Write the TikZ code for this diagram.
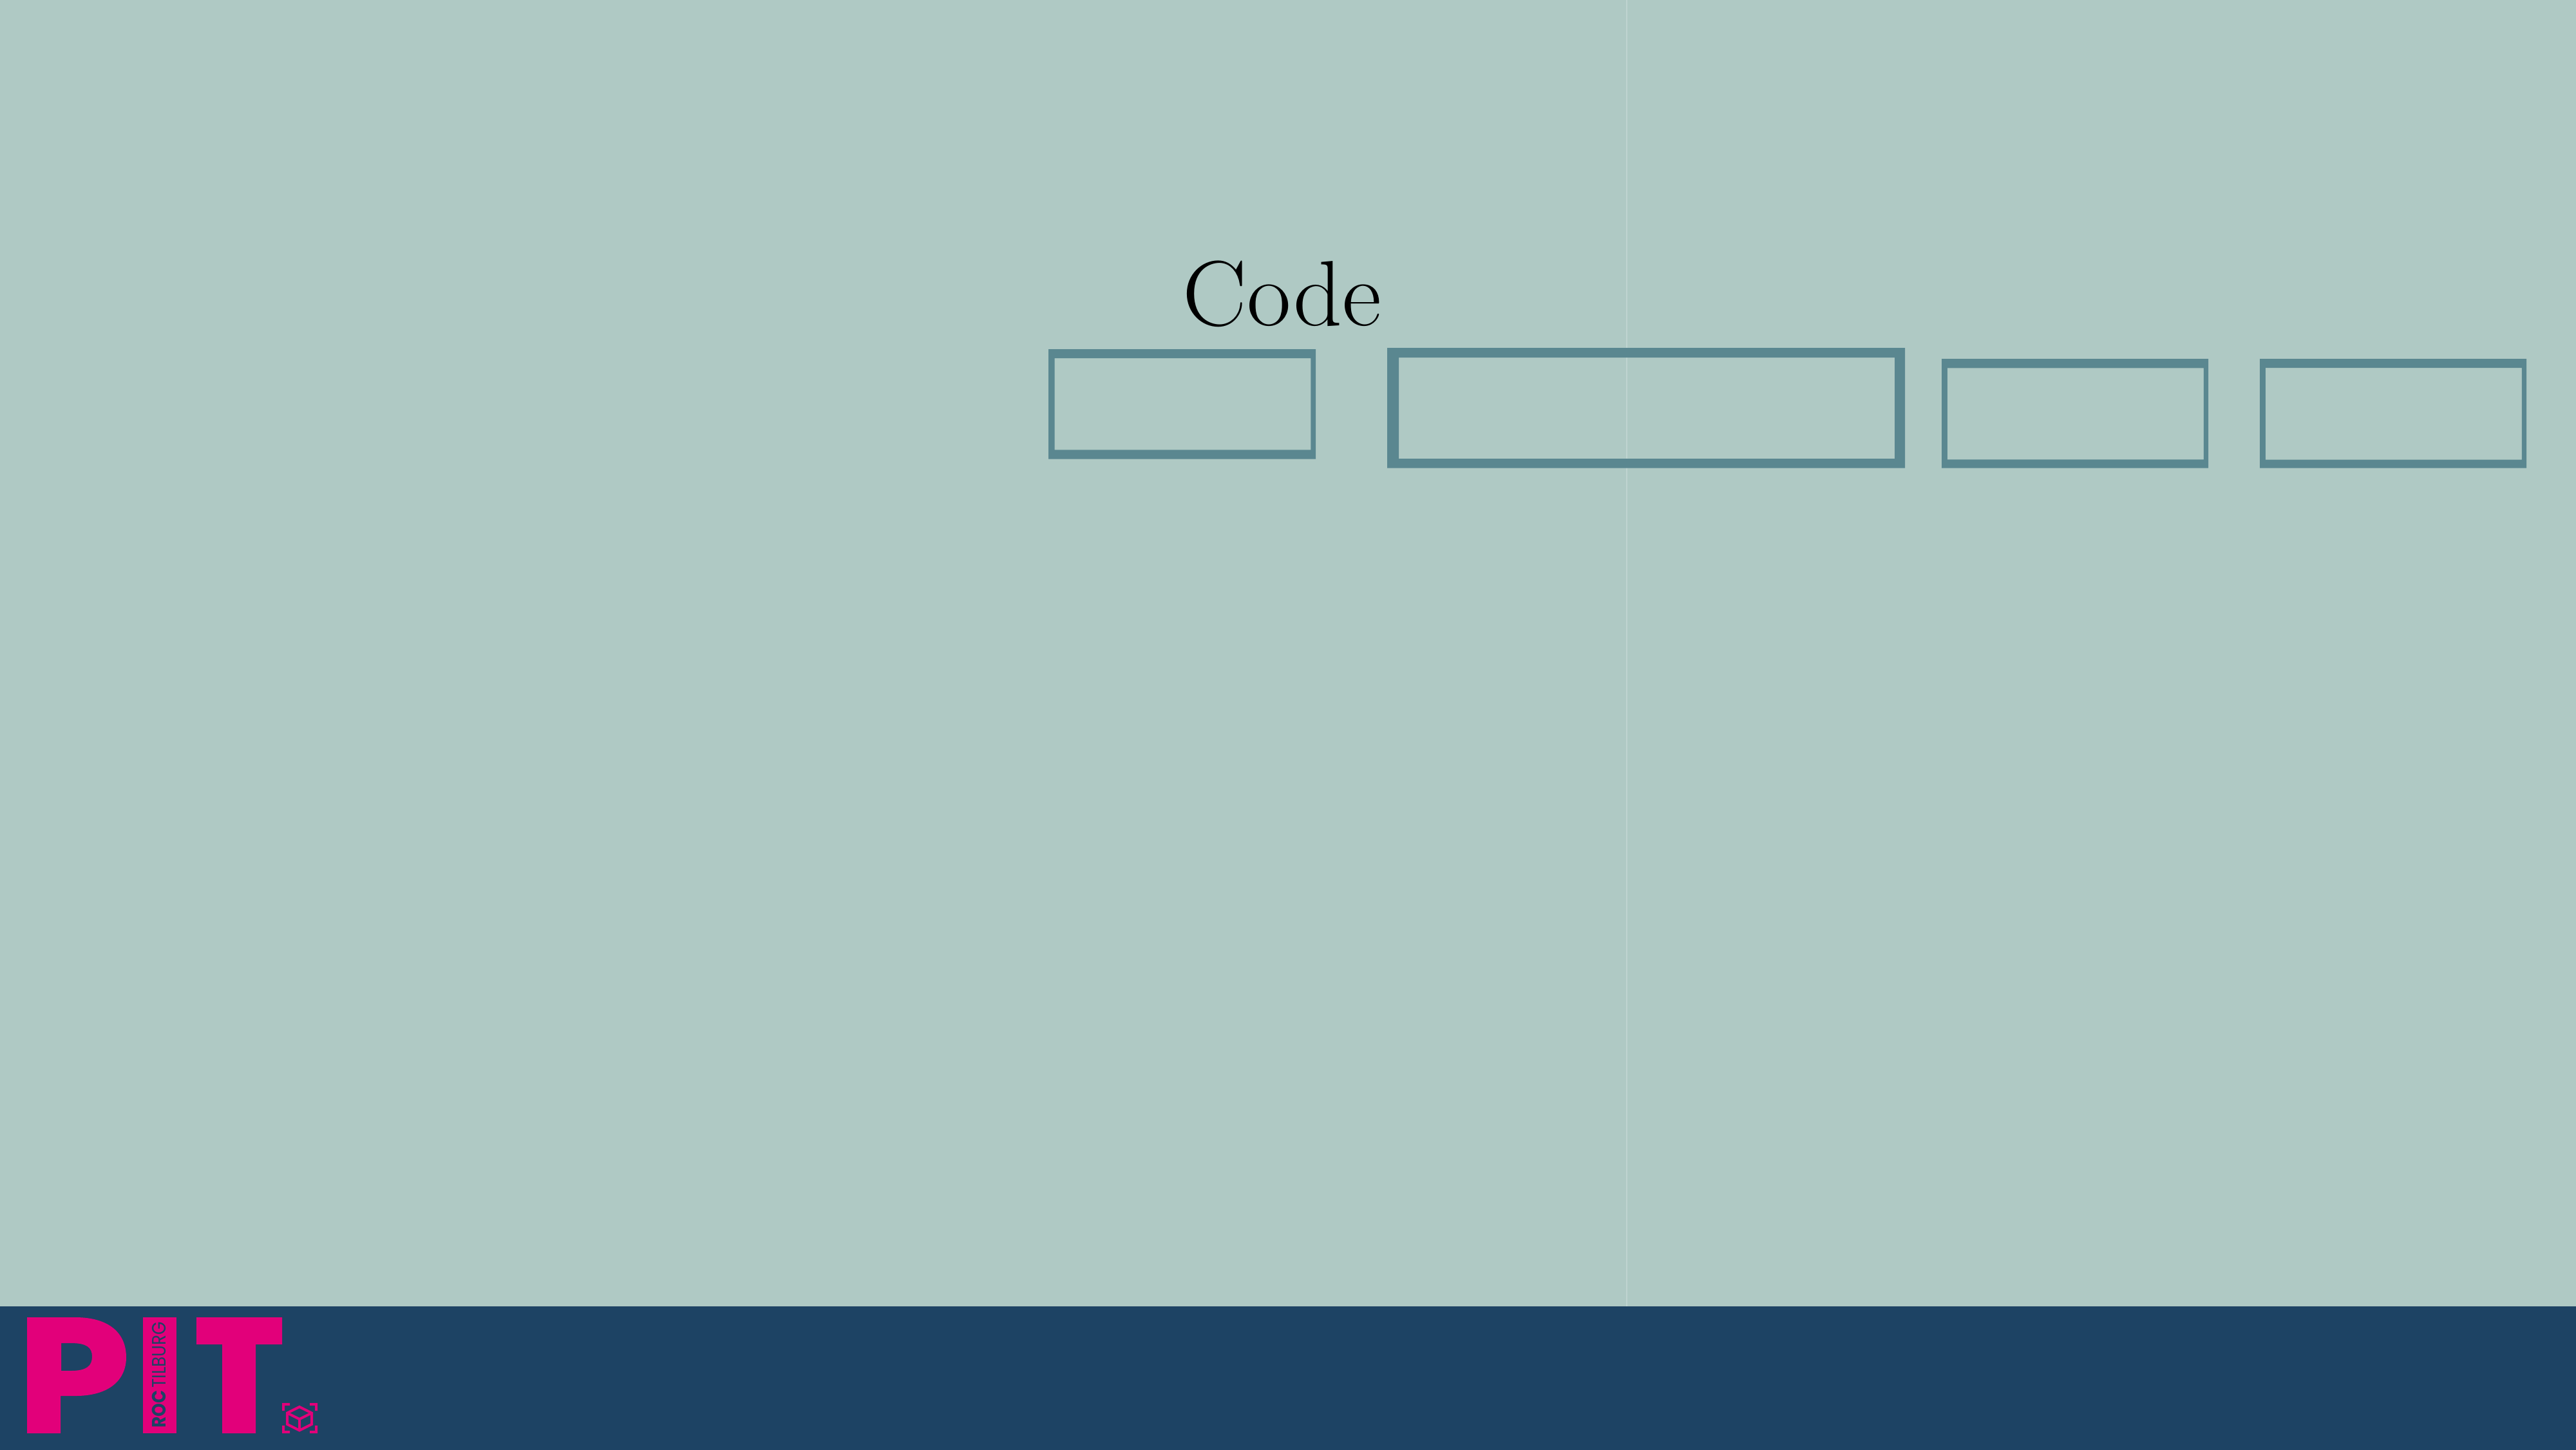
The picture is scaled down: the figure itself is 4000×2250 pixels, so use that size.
\documentclass[tikz,border=0pt]{standalone}
\usepackage{xcolor}
\usepackage{fontspec}
\usepackage{tikz}
\newfontfamily\rocfont{Poppins}
\definecolor{sage}{HTML}{AFC9C4}
\definecolor{slab}{HTML}{5A8790}
\definecolor{navy}{HTML}{1D4364}
\definecolor{pitpink}{HTML}{E2007A}

\begin{document}
\begin{tikzpicture}[x=0.25pt,y=-0.25pt,
	pit/.style={fill=pitpink,draw=none},
	frame/.style={fill=slab,draw=none,even odd rule},
	cube/.style={draw=pitpink,line width=1pt,line join=miter}]
	\useasboundingbox (0,0) rectangle (4000,2250);
	\fill[sage] (0,0) rectangle (4000,2250);
	\draw[line width=0.5pt,color=sage!80!white] (2526,0) -- (2526,2028);

	\foreach \a/\b/\c/\d/\e/\f/\g/\h in {1628/542/2043/712.7/1637.7/556/2035.3/698.3,
		2154/540/2958/726.7/2172/555/2942/712,
		3015/557/3429/726.7/3023.7/571.3/3421.7/713.3,
		3509/557/3923/726.7/3517.7/571/3915.7/713.7}{
		\fill[frame] (\a,\b) rectangle (\c,\d) (\e,\f) rectangle (\g,\h);
	}
	\node[anchor=base,xscale=1.035,inner sep=0pt,font=\fontsize{36}{40}\selectfont] (code) at (1991,505) {Code};

	\fill[navy] (0,2028) rectangle (4010,2260);
	% logo
	\fill[pit,even odd rule] (42,2045) -- (117,2045) .. controls (170,2045) and (196,2070) .. (196,2107)
		.. controls (196,2142) and (170,2167) .. (117,2167) -- (94,2167) -- (94,2225) -- (42,2225) -- cycle
		(95,2085) -- (110,2085) .. controls (135,2085) and (143,2092) .. (143,2106)
		.. controls (143,2120) and (135,2128) .. (110,2128) -- (95,2128) -- cycle;
	\fill[pit] (222,2045) rectangle (274,2225);
	\fill[pit] (305,2045) -- (438,2045) -- (438,2087) -- (397,2087) -- (397,2225) -- (345,2225) -- (345,2087) -- (305,2087) -- cycle;
	\node[rotate=90,xscale=0.875,inner sep=0pt,text=navy,font=\rocfont\fontsize{7.5}{8}\selectfont] (roc) at (247,2134.5) {\textbf{ROC}\,TILBURG};

	\draw[cube] (465,2184) -- (484,2193.5) -- (484,2211) -- (465,2220.5) -- (446,2211) -- (446,2193.5) -- cycle;
	\draw[cube] (446,2193.5) -- (465,2203) -- (484,2193.5) (465,2203) -- (465,2220.5);
	\foreach \x/\y/\u/\v in {438/2178/1/1,493/2178/-1/1,438/2225/1/-1,493/2225/-1/-1}{
		\fill[pit] (\x,\y) -- ++(12*\u,0) -- ++(0,4*\v) -- ++(-8*\u,0) -- ++(0,8*\v) -- ++(-4*\u,0) -- cycle;
	}
\end{tikzpicture}
\end{document}
